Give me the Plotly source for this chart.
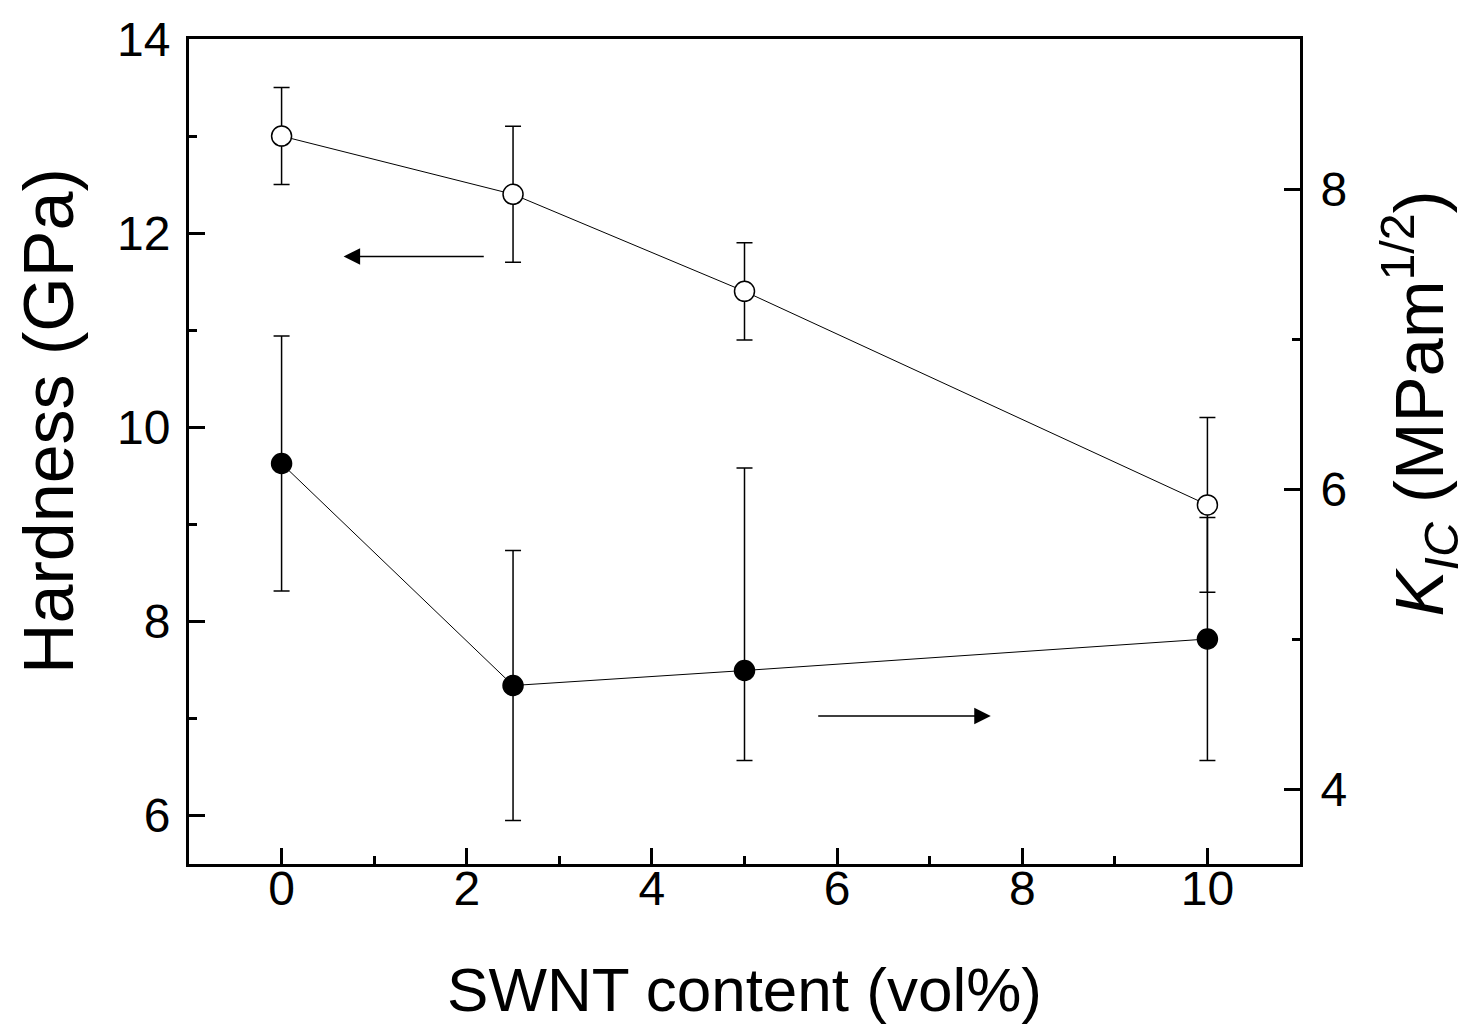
import plotly.graph_objects as go

# Data
swnt = [0, 2.5, 5, 10]
hardness = [13.0, 12.4, 11.4, 9.2]
hardness_err = [0.5, 0.7, 0.5, 0.9]
kic = [6.17, 4.69, 4.79, 5.0]
kic_err_plus = [0.85, 0.9, 1.35, 0.81]
kic_err_minus = [0.85, 0.9, 0.6, 0.81]

x_ticks = [0, 2, 4, 6, 8, 10]
y1_ticks = [6, 8, 10, 12, 14]
y2_ticks = [4, 6, 8]

x_title = "SWNT content (vol%)"
y1_title = "Hardness (GPa)"
y2_title = "<i>K</i><sub><i>IC</i></sub> (MPam<sup>1/2</sup>)"

# arrow annotations (tip, tail) in data coords
arrow_left = dict(tip_x=0.67, tail_x=2.2, y=11.76)
arrow_right = dict(tip_x=7.66, tail_x=5.78, y=4.487)

FONT = "Liberation Sans, Arial, sans-serif"

fig = go.Figure()

fig.add_trace(go.Scatter(
    x=swnt, y=kic, yaxis="y2", mode="lines+markers",
    line=dict(color="black", width=1),
    marker=dict(symbol="circle", size=20, color="black", line=dict(color="black", width=1.5)),
    error_y=dict(type="data", symmetric=False, array=kic_err_plus, arrayminus=kic_err_minus,
                 color="black", thickness=1.5, width=8),
    showlegend=False,
))

fig.add_trace(go.Scatter(
    x=swnt, y=hardness, mode="lines+markers",
    line=dict(color="black", width=1),
    marker=dict(symbol="circle", size=20, color="white", line=dict(color="black", width=1.5)),
    error_y=dict(type="data", array=hardness_err, color="black", thickness=1.5, width=8),
    showlegend=False,
))

fig.add_annotation(x=arrow_left["tip_x"], y=arrow_left["y"], ax=arrow_left["tail_x"], ay=arrow_left["y"],
                   xref="x", yref="y", axref="x", ayref="y", text="", showarrow=True,
                   arrowhead=2, arrowsize=2.2, arrowwidth=1.5, arrowcolor="black")
fig.add_annotation(x=arrow_right["tip_x"], y=arrow_right["y"], ax=arrow_right["tail_x"], ay=arrow_right["y"],
                   xref="x", yref="y2", axref="x", ayref="y2", text="", showarrow=True,
                   arrowhead=2, arrowsize=2.2, arrowwidth=1.5, arrowcolor="black")

# y-axis titles as rotated annotations for precise placement
fig.add_annotation(text=y1_title, xref="paper", yref="paper", x=-0.126, y=0.537,
                   xanchor="center", yanchor="middle", textangle=-90, showarrow=False,
                   font=dict(family=FONT, size=70, color="black"))
fig.add_annotation(text=y2_title, xref="paper", yref="paper", x=1.1069, y=0.558,
                   xanchor="center", yanchor="middle", textangle=-90, showarrow=False,
                   font=dict(family=FONT, size=69, color="black"))

axis_common = dict(showgrid=False, zeroline=False, showline=True, linecolor="black", linewidth=3,
                   ticks="inside", tickcolor="black", tickwidth=2.5, ticklen=16, automargin=False,
                   tickfont=dict(family=FONT, size=48, color="black"))
minor = dict(ticks="inside", ticklen=8, tickwidth=2.5, tickcolor="black", dtick=1, tick0=0)

fig.update_layout(
    width=1478, height=1035,
    margin=dict(l=181, r=186, t=31, b=179),
    paper_bgcolor="white", plot_bgcolor="white",
    xaxis=dict(**axis_common, range=[-1, 11], tickvals=x_ticks, mirror=True, minor=minor,
               ticklabelstandoff=-20,
               title=dict(text=x_title, font=dict(family=FONT, size=62, color="black"), standoff=55)),
    yaxis=dict(**axis_common, range=[5.5, 14], tickvals=y1_ticks, minor=minor,
               ticklabelstandoff=6),
    yaxis2=dict(**axis_common, range=[3.5, 9], tickvals=y2_ticks, overlaying="y", side="right", minor=minor,
                ticklabelstandoff=8),
)

fig.write_html("out.html")
